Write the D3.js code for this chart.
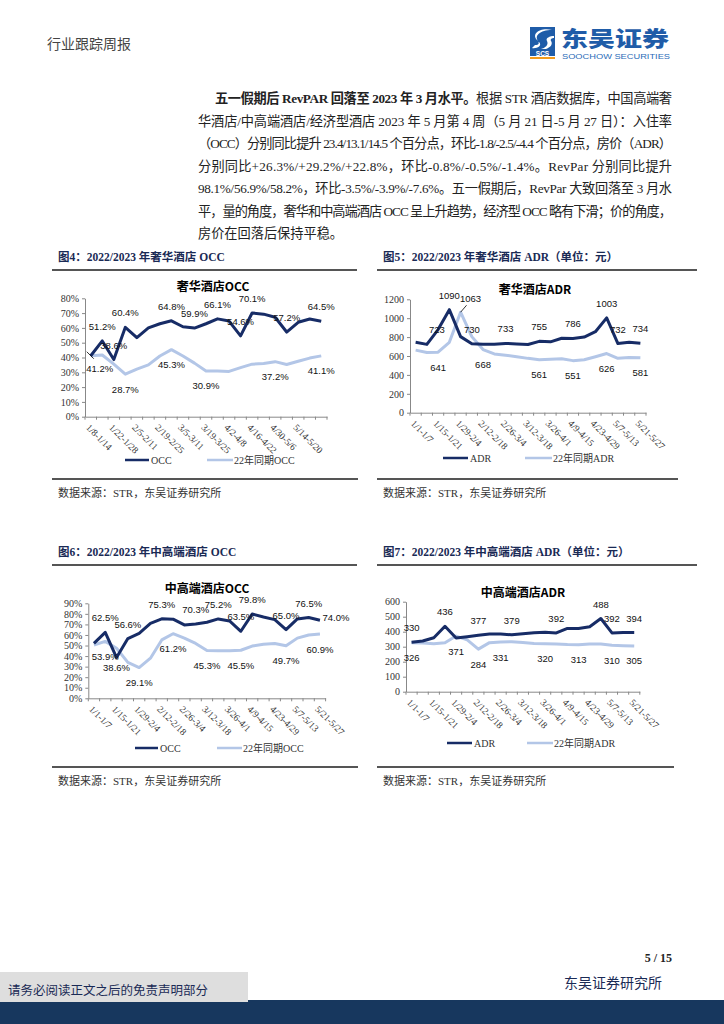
<!DOCTYPE html>
<html><head><meta charset="utf-8">
<script src="https://cdn.jsdelivr.net/npm/d3@7/dist/d3.min.js"></script>
<style>body{margin:0;background:#fff}svg{display:block}</style>
</head><body>
<svg id="page" width="724" height="1024"></svg>
<script>
// ---------------- DATA ----------------
const weeks = ["1/1-1/7","1/8-1/14","1/15-1/21","1/22-1/28","1/29-2/4","2/5-2/11","2/12-2/18","2/19-2/25","2/26-3/4","3/5-3/11","3/12-3/18","3/19-3/25","3/26-4/1","4/2-4/8","4/9-4/15","4/16-4/22","4/23-4/29","4/30-5/6","5/7-5/13","5/14-5/20","5/21-5/27"];
const luxOccTickLabels = ["1/8-1/14","1/22-1/28","2/5-2/11","2/19-2/25","3/5-3/11","3/19-3/25","4/2-4/8","4/16-4/22","4/30-5/6","5/14-5/20"];
const weekTickLabels = ["1/1-1/7","1/15-1/21","1/29-2/4","2/12-2/18","2/26-3/4","3/12-3/18","3/26-4/1","4/9-4/15","4/23-4/29","5/7-5/13","5/21-5/27"];

const luxOcc23 = [41.2,51.2,38.6,60.4,53.4,60.0,62.8,64.8,60.8,59.9,62.8,66.1,64.6,54.6,70.1,69.3,67.2,57.2,63.8,66.0,64.5];
const luxOcc22 = [41.2,41.7,35.5,28.7,32.2,35.0,41.0,45.3,41.0,36.2,30.9,30.8,30.6,33.2,35.5,36.0,37.2,35.3,37.5,39.6,41.1];
const luxAdr23 = [745,723,880,1090,805,730,725,725,733,728,722,755,750,788,786,800,857,1003,732,745,734];
const luxAdr22 = [662,638,641,745,1063,805,668,622,608,592,575,561,565,570,551,560,592,626,575,585,581];
const midOcc23 = [52.1,62.5,38.6,56.6,61.6,71.0,75.3,75.0,69.5,70.3,72.0,75.2,73.3,63.5,79.8,77.0,74.5,65.0,75.2,76.5,74.0];
const midOcc22 = [50.5,53.9,47.4,34.0,29.1,38.0,55.3,61.2,57.0,52.0,45.3,45.0,45.0,45.5,49.5,51.3,52.0,49.7,57.0,60.0,60.9];
const midAdr23 = [330,338,360,436,358,367,377,384,384,379,386,393,396,392,422,422,433,488,392,395,394];
const midAdr22 = [326,325,320,326,371,345,284,327,331,333,328,322,320,318,314,313,318,318,310,307,305];

const occTicks = [0,10,20,30,40,50,60,70,80];
const occTicksMid = [0,10,20,30,40,50,60,70,80,90];
const luxAdrTicks = [0,200,400,600,800,1000,1200];
const midAdrTicks = [0,100,200,300,400,500,600];

// ---------------- STYLE ----------------
const SERIF = "'Liberation Serif','Times New Roman','Noto Sans CJK SC',serif";
const SANS = "'Liberation Sans',Arial,'Noto Sans CJK SC',sans-serif";
const CJK = "'Noto Sans CJK SC',sans-serif";
const DARK = "#172c66", LIGHT = "#b3c6e7", NAVY = "#1a2a55";

const svg = d3.select("#page");

// ---------------- HEADER ----------------
svg.append("text").attr("x",47).attr("y",49).attr("font-family",CJK).attr("font-size",14)
  .attr("fill","#444").text("行业跟踪周报");
const lg = svg.append("g");
lg.append("rect").attr("x",530).attr("y",27).attr("width",25).attr("height",23).attr("fill","#1f5ca8");
lg.append("path").attr("d","M552,30 C540,30 533,36 539,42 C543,46 536,49 532,48 L535,45 C539,45 540,43 537,40 C531,34 540,27 552,30 Z")
  .attr("fill","#fff");
lg.append("path").attr("d","M554,36 C550,36 545,38 547,41 C549,45 545,48 541,49 L546,49 C551,47 553,44 551,41 C550,39 552,38 554,38 Z")
  .attr("fill","#fff");
lg.append("rect").attr("x",530).attr("y",50).attr("width",25).attr("height",6).attr("fill","#1f5ca8");
lg.append("text").attr("x",542.5).attr("y",55.5).attr("text-anchor","middle").attr("font-family",SANS)
  .attr("font-weight","bold").attr("font-size",6.5).attr("fill","#fff").text("SCS");
lg.append("rect").attr("x",530).attr("y",57).attr("width",25).attr("height",2).attr("fill","#f29b1c");
lg.append("text").attr("x",561).attr("y",46).attr("font-family",CJK).attr("font-weight","900")
  .attr("font-size",21).attr("fill","#1f5ca8").attr("textLength",108).attr("lengthAdjust","spacingAndGlyphs").text("东吴证券");
lg.append("text").attr("x",562).attr("y",59).attr("font-family",SANS).attr("font-size",8)
  .attr("fill","#2a6bb8").attr("textLength",108).attr("lengthAdjust","spacingAndGlyphs").text("SOOCHOW SECURITIES");

// ---------------- PARAGRAPH ----------------
const paraFont = "'Liberation Serif','Noto Sans CJK SC',serif";
const lines = [
  {x:215, parts:[["五一假期后 RevPAR 回落至 2023 年 3 月水平。",true],["根据 STR 酒店数据库，中国高端奢",false]]},
  {x:198, parts:[["华酒店/中高端酒店/经济型酒店 2023 年 5 月第 4 周（5 月 21 日-5 月 27 日）：入住率",false]]},
  {x:198, parts:[["（OCC）分别同比提升 23.4/13.1/14.5 个百分点，环比-1.8/-2.5/-4.4 个百分点，房价（ADR）",false]]},
  {x:198, parts:[["分别同比+26.3%/+29.2%/+22.8%，环比-0.8%/-0.5%/-1.4%。RevPar 分别同比提升",false]]},
  {x:198, parts:[["98.1%/56.9%/58.2%，环比-3.5%/-3.9%/-7.6%。五一假期后，RevPar 大致回落至 3 月水",false]]},
  {x:198, parts:[["平，量的角度，奢华和中高端酒店 OCC 呈上升趋势，经济型 OCC 略有下滑；价的角度，",false]]},
  {x:198, parts:[["房价在回落后保持平稳。",false]], natural:true}
];
lines.forEach((l,i)=>{
  const t = svg.append("text").attr("x",l.x).attr("y",103+i*22.5).attr("font-family",paraFont)
    .attr("font-size",13.2).attr("fill","#222");
  if(!l.natural) t.attr("textLength",672-l.x).attr("lengthAdjust","spacing");
  l.parts.forEach(p=>t.append("tspan").attr("font-weight",p[1]?"bold":"normal").text(p[0]));
});

// ---------------- FIGURE FRAMES ----------------
function frame(x, title, tY, r1, r2, srcY){
  svg.append("text").attr("x",x+6).attr("y",tY).attr("font-family",paraFont).attr("font-weight","bold")
    .attr("font-size",11.5).attr("fill",NAVY).text(title);
  svg.append("line").attr("x1",r1[0]).attr("x2",r1[1]).attr("y1",tY+9).attr("y2",tY+9).attr("stroke","#555").attr("stroke-width",2);
  svg.append("line").attr("x1",r2[0]).attr("x2",r2[1]).attr("y1",srcY-14).attr("y2",srcY-14).attr("stroke","#555").attr("stroke-width",2);
  svg.append("text").attr("x",x+6).attr("y",srcY+4).attr("font-family",paraFont).attr("font-size",11)
    .attr("fill","#333").text("数据来源：STR，东吴证券研究所");
}
frame(52,"图4：2022/2023 年奢华酒店 OCC",261,[52,357],[52,358],493);
frame(377,"图5：2022/2023 年奢华酒店 ADR（单位：元）",261,[377,697],[377,678],493);
frame(52,"图6：2022/2023 年中高端酒店 OCC",556,[52,357],[52,358],781);
frame(377,"图7：2022/2023 年中高端酒店 ADR（单位：元）",556,[377,697],[377,674],781);

// ---------------- CHARTS ----------------
function drawChart(c){
  const g = svg.append("g");
  const x = d3.scaleBand().domain(d3.range(c.s1.length)).range([c.x0,c.x1]);
  const y = d3.scaleLinear().domain([0,c.yMax]).range([c.yB,c.yT]);
  const cx = i => x(i)+x.bandwidth()/2;

  g.append("text").attr("x",c.titleX).attr("y",c.titleY).attr("text-anchor","middle")
    .attr("dominant-baseline","central").attr("font-family",CJK).attr("font-weight","bold")
    .attr("font-size",12).attr("fill","#000").text(c.title);

  const ya = g.append("g").attr("transform",`translate(${c.x0},0)`)
    .call(d3.axisLeft(y).tickValues(c.yTicks).tickSize(3).tickSizeOuter(0).tickPadding(3).tickFormat(c.fmt));
  ya.select(".domain").attr("stroke","#888");
  ya.selectAll(".tick line").attr("stroke","#888");
  ya.selectAll("text").attr("font-family",SERIF).attr("font-size",10).attr("fill","#333");

  const xa = g.append("g").attr("transform",`translate(0,${c.yB})`)
    .call(d3.axisBottom(x).tickValues(c.tickIdx).tickSize(0).tickSizeOuter(0).tickFormat((d,k)=>c.tickLabels[k]));
  xa.select(".domain").attr("stroke","#888");
  xa.selectAll("text").attr("font-family",SERIF).attr("font-size",9.5).attr("fill","#333")
    .attr("text-anchor","start").attr("y",0).attr("dy","0.35em")
    .attr("transform","translate(-3,9) rotate(45)");
  g.selectAll(".bt").data(d3.range(c.s1.length+1)).enter().append("line")
    .attr("x1",i=>c.x0+i*x.step()).attr("x2",i=>c.x0+i*x.step())
    .attr("y1",c.yB).attr("y2",c.yB+3).attr("stroke","#888");

  const line = d3.line().x((d,i)=>cx(i)).y(d=>y(d));
  g.append("path").datum(c.s2).attr("d",line).attr("fill","none").attr("stroke",LIGHT)
    .attr("stroke-width",3).attr("stroke-linejoin","round");
  g.append("path").datum(c.s1).attr("d",line).attr("fill","none").attr("stroke",DARK)
    .attr("stroke-width",3).attr("stroke-linejoin","round");

  function labels(series, idxs, below, special){
    idxs.forEach(i=>{
      const sp = (special||{})[i] || {};
      const isBelow = below.includes(i);
      const lx = cx(i)+(sp.dx||0), ly = y(series[i])+(sp.dy!==undefined?sp.dy:(isBelow?15:-14.5));
      g.append("text").attr("x",lx).attr("y",ly).attr("text-anchor","middle").attr("dominant-baseline","central")
        .attr("font-family",SANS).attr("font-size",9.5).attr("fill","#111").text(c.lab(series[i]));
      if(sp.leader){
        g.append("line").attr("x1",cx(i)+sp.leader[0]).attr("y1",y(series[i])+sp.leader[1])
          .attr("x2",cx(i)+sp.leader[2]).attr("y2",y(series[i])+sp.leader[3]).attr("stroke","#000").attr("stroke-width",0.8);
      }
    });
  }
  labels(c.s1,c.lab1,c.below1||[],c.sp1);
  labels(c.s2,c.lab2,c.below2||d3.range(c.s2.length),c.sp2);

  const L = c.leg;
  g.append("line").attr("x1",L.d[0]).attr("x2",L.d[1]).attr("y1",L.y).attr("y2",L.y).attr("stroke",DARK).attr("stroke-width",2.5);
  g.append("text").attr("x",L.d[1]+2).attr("y",L.y).attr("dominant-baseline","central").attr("font-family",SERIF)
    .attr("font-size",10).attr("fill","#333").text(c.n1);
  g.append("line").attr("x1",L.l[0]).attr("x2",L.l[1]).attr("y1",L.y).attr("y2",L.y).attr("stroke",LIGHT).attr("stroke-width",2.5);
  g.append("text").attr("x",L.l[1]+1).attr("y",L.y).attr("dominant-baseline","central").attr("font-family",SERIF)
    .attr("font-size",10).attr("fill","#333").text(c.n2);
}

const pct = d=>d+"%", pct1 = d=>d.toFixed(1)+"%", num = d=>String(d);

drawChart({title:"奢华酒店OCC",titleX:213,titleY:285.5,x0:85,x1:327,yT:298.3,yB:416.7,yMax:80,yTicks:occTicks,fmt:pct,
  s1:luxOcc23,s2:luxOcc22,tickIdx:d3.range(0,20,2),tickLabels:luxOccTickLabels,lab:pct1,
  lab1:[1,2,3,7,9,11,13,14,17,20],lab2:[0,3,7,10,16,20],
  sp2:{0:{dx:9,dy:13,leader:[-4,-4,3,3]}},
  n1:"OCC",n2:"22年同期OCC",leg:{y:460,d:[125,149],l:[207,233]}});

drawChart({title:"奢华酒店ADR",titleX:535,titleY:288,x0:410,x1:646,yT:299.3,yB:412.7,yMax:1200,yTicks:luxAdrTicks,fmt:num,
  s1:luxAdr23,s2:luxAdr22,tickIdx:d3.range(0,21,2),tickLabels:weekTickLabels,lab:num,
  lab1:[1,3,5,8,11,14,17,18,20],lab2:[2,4,6,11,14,17,20],below2:[2,6,11,14,17,20],
  sp1:{1:{dx:10}},sp2:{4:{dx:10,dy:-14,leader:[0,0,6,-7]}},
  n1:"ADR",n2:"22年同期ADR",leg:{y:458,d:[443,468],l:[525,552]}});

drawChart({title:"中高端酒店OCC",titleX:207,titleY:587,x0:88.3,x1:325.6,yT:603.3,yB:698.3,yMax:90,yTicks:occTicksMid,fmt:pct,
  s1:midOcc23,s2:midOcc22,tickIdx:d3.range(0,21,2),tickLabels:weekTickLabels,lab:pct1,
  lab1:[1,2,3,6,9,11,13,14,17,19,20],below1:[2],lab2:[1,4,7,10,13,17,20],
  sp1:{2:{dy:10},20:{dx:16,dy:-3}},
  n1:"OCC",n2:"22年同期OCC",leg:{y:748,d:[135,158],l:[217,242]}});

drawChart({title:"中高端酒店ADR",titleX:523,titleY:591,x0:406,x1:639.8,yT:601.7,yB:691.7,yMax:600,yTicks:midAdrTicks,fmt:num,
  s1:midAdr23,s2:midAdr22,tickIdx:d3.range(0,21,2),tickLabels:weekTickLabels,lab:num,
  lab1:[0,3,6,9,13,17,18,20],lab2:[0,4,6,8,12,15,18,20],
  n1:"ADR",n2:"22年同期ADR",leg:{y:743,d:[447,472],l:[527,553]}});

// ---------------- FOOTER ----------------
svg.append("text").attr("x",672).attr("y",962).attr("text-anchor","end").attr("font-family",SERIF)
  .attr("font-weight","bold").attr("font-size",12).attr("fill","#222").text("5 / 15");
svg.append("text").attr("x",662).attr("y",988).attr("text-anchor","end").attr("font-family",CJK)
  .attr("font-size",14).attr("fill",NAVY).text("东吴证券研究所");
svg.append("rect").attr("x",0).attr("y",1000).attr("width",724).attr("height",24).attr("fill","#17375e");
svg.append("rect").attr("x",0).attr("y",972).attr("width",248).attr("height",30).attr("fill","#dedede");
svg.append("text").attr("x",8).attr("y",995).attr("font-family",CJK).attr("font-size",12.5)
  .attr("fill",NAVY).text("请务必阅读正文之后的免责声明部分");
</script>
</body></html>
